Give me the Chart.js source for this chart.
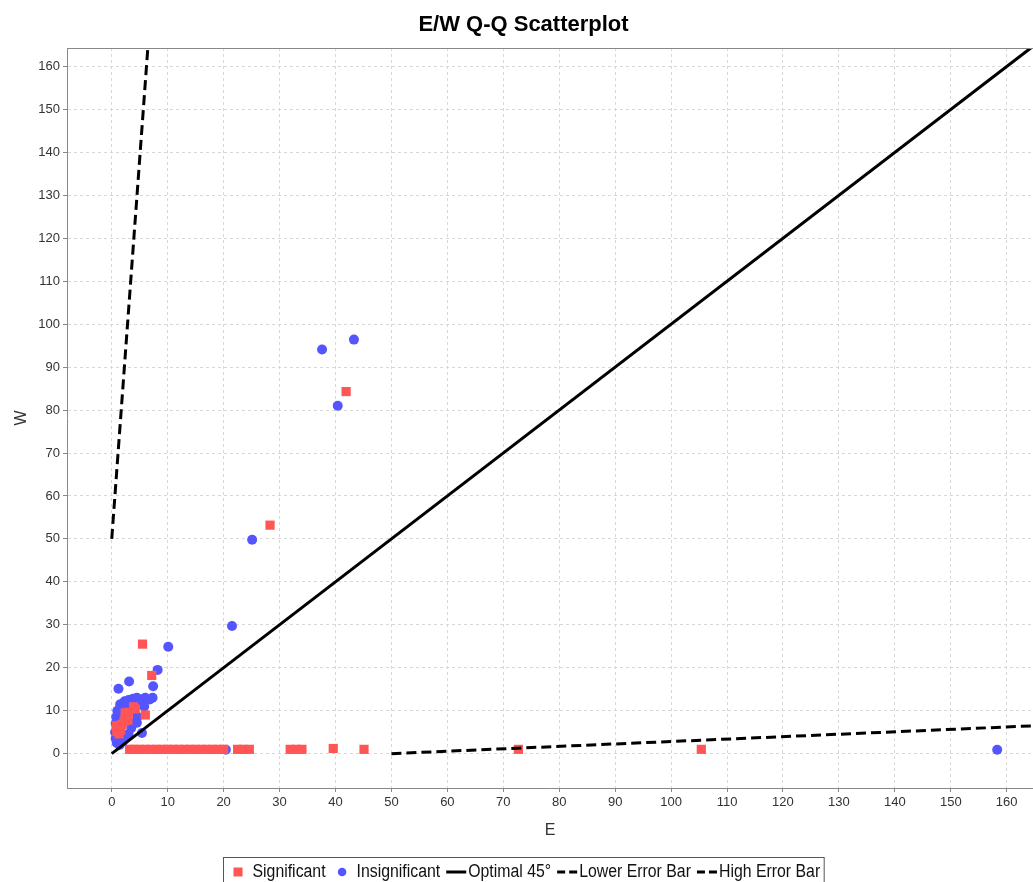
<!DOCTYPE html>
<html>
<head>
<meta charset="utf-8">
<title>E/W Q-Q Scatterplot</title>
<script src="https://cdn.jsdelivr.net/npm/chart.js@4.4.0/dist/chart.umd.min.js"></script>
<style>
  html, body { margin: 0; padding: 0; background: #fff; }
  #wrap { width: 1033px; height: 882px; }
</style>
</head>
<body>
<div id="wrap"><canvas id="qqChart" width="1033" height="882"></canvas></div>
<script>
// Significant points (red squares)
const sigE = [
  41.9, 28.3, 5.5, 7.15, 6.0, 4.2, 3.9,
  0.8, 0.9, 1.6, 1.8, 2.2, 2.6, 2.4, 3.0, 2.9, 1.3,
  3.2, 4, 5, 6, 7, 8, 9, 10, 11, 12, 13, 14, 15, 16, 17, 18, 19, 20,
  22.5, 23.5, 24.6, 31.9, 33, 34, 39.6, 45.1, 72.7, 105.4
];
const sigW = [
  84.3, 53.2, 25.5, 18.2, 9.0, 10.4, 10.9,
  6.5, 5.2, 5.5, 6.8, 7.5, 8.4, 9.4, 9.6, 7.8, 4.6,
  1, 1, 1, 1, 1, 1, 1, 1, 1, 1, 1, 1, 1, 1, 1, 1, 1, 1,
  1, 1, 1, 1, 1, 1, 1.2, 1, 1, 1
];

// Insignificant points (blue circles)
const insE = [
  1.2, 3.1, 7.4, 8.2, 10.1, 21.5, 25.1, 37.6, 43.3, 40.4, 158.3, 20.4, 5.4,
  1.5, 2.3, 3.0, 3.8, 4.5, 5.3, 6.0, 6.8, 7.3, 2.8, 4.2, 5.0, 5.8,
  3.4, 4.6, 4.0, 3.5, 4.5, 1.0, 0.8, 0.7, 0.6, 0.7, 0.9, 1.4, 2.0, 1.8, 2.5, 3.0, 1.2
];
const insW = [
  15.1, 16.8, 15.7, 19.5, 24.9, 29.7, 49.8, 94.1, 96.4, 81.0, 0.9, 0.9, 4.8,
  11.5, 12.2, 12.5, 12.8, 13.0, 12.6, 13.0, 12.6, 13.0, 11.0, 11.2, 11.5, 11.0,
  9.8, 8.6, 7.2, 6.0, 7.2, 10.0, 8.5, 7.0, 5.0, 3.5, 2.5, 2.0, 2.8, 4.0, 3.6, 4.6, 4.2
];

// reference lines
const optimalE = [0, 170];
const optimalW = [0, 170];
const lowerE = [50, 174];
const lowerW = [0, 7];
const highE = [0, 7];
const highW = [50, 174];

const xRange = [-8, 164.7];
const yRange = [-8, 164.3];
const tickStep = 10;

const FONT = "'Liberation Sans', Arial, sans-serif";
const RED = "#ff5555";
const BLUE = "#5555ff";

function toPoints(xs, ys) {
  return xs.map((x, i) => ({ x: x, y: ys[i] }));
}

// legend drawn as a boxed row under the plot (text slightly condensed like the original)
const boxLegend = {
  id: "boxLegend",
  afterDraw(chart) {
    const ctx = chart.ctx;
    const squeeze = 0.88;
    ctx.save();
    ctx.font = "18px " + FONT;
    ctx.textBaseline = "middle";

    const items = chart.data.datasets.map((ds) => {
      const isLine = !!ds.showLine;
      const iconW = isLine ? 20 : 9;
      return { ds: ds, isLine: isLine, iconW: iconW, textW: ctx.measureText(ds.label).width * squeeze };
    });

    let total = 10;
    items.forEach((it, i) => {
      total += it.iconW + (it.isLine ? 2 : 10) + it.textW;
      if (i < items.length - 1) {
        total += items[i + 1].isLine ? 6 : 12;
      }
    });
    total += 4;

    const center = 523.5;
    const left = Math.round(center - total / 2) + 0.5;
    const top = 857.5;
    const cy = 872;

    ctx.strokeStyle = "#555";
    ctx.lineWidth = 1;
    ctx.strokeRect(left, top, total, 40);

    let x = left + 10;
    items.forEach((it, i) => {
      const ds = it.ds;
      if (it.isLine) {
        ctx.strokeStyle = "#000";
        ctx.lineWidth = 3;
        ctx.setLineDash(ds.borderDash ? [8, 4] : []);
        ctx.beginPath();
        ctx.moveTo(x, cy);
        ctx.lineTo(x + it.iconW, cy);
        ctx.stroke();
        ctx.setLineDash([]);
        x += it.iconW + 2;
      } else {
        ctx.fillStyle = ds.backgroundColor;
        if (ds.pointStyle === "rect") {
          ctx.fillRect(x, cy - 4.5, 9, 9);
        } else {
          ctx.beginPath();
          ctx.arc(x + 4.5, cy, 4.3, 0, Math.PI * 2);
          ctx.fill();
        }
        x += it.iconW + 10;
      }
      ctx.save();
      ctx.translate(x, cy);
      ctx.scale(squeeze, 1);
      ctx.fillStyle = "#111";
      ctx.fillText(ds.label, 0, 0);
      ctx.restore();
      x += it.textW;
      if (i < items.length - 1) {
        x += items[i + 1].isLine ? 6 : 12;
      }
    });
    ctx.restore();
  }
};

// top edge of the plot frame
const plotFrame = {
  id: "plotFrame",
  afterDraw(chart) {
    const { ctx, chartArea } = chart;
    ctx.save();
    ctx.strokeStyle = "#888";
    ctx.lineWidth = 1;
    ctx.beginPath();
    ctx.moveTo(chartArea.left, Math.round(chartArea.top) + 0.5);
    ctx.lineTo(chartArea.right, Math.round(chartArea.top) + 0.5);
    ctx.stroke();
    ctx.restore();
  }
};

const ctx = document.getElementById("qqChart").getContext("2d");

new Chart(ctx, {
  type: "scatter",
  data: {
    datasets: [
      {
        label: "Significant",
        data: toPoints(sigE, sigW),
        pointStyle: "rect",
        pointRadius: 6.5,
        borderWidth: 0,
        backgroundColor: RED,
        borderColor: RED,
        order: 2,
      },
      {
        label: "Insignificant",
        data: toPoints(insE, insW),
        pointStyle: "circle",
        pointRadius: 5,
        borderWidth: 0,
        backgroundColor: BLUE,
        borderColor: BLUE,
        order: 3,
      },
      {
        label: "Optimal 45°",
        data: toPoints(optimalE, optimalW),
        showLine: true,
        pointRadius: 0,
        borderColor: "#000",
        borderWidth: 3,
        order: 0,
      },
      {
        label: "Lower Error Bar",
        data: toPoints(lowerE, lowerW),
        showLine: true,
        pointRadius: 0,
        borderColor: "#000",
        borderWidth: 3,
        borderDash: [10, 5],
        order: 0,
      },
      {
        label: "High Error Bar",
        data: toPoints(highE, highW),
        showLine: true,
        pointRadius: 0,
        borderColor: "#000",
        borderWidth: 3,
        borderDash: [10, 5],
        order: 0,
      },
    ],
  },
  options: {
    responsive: false,
    animation: false,
    events: [],
    devicePixelRatio: 1,
    layout: {
      autoPadding: false,
      padding: { left: 0, right: -14, top: 0, bottom: 32 },
    },
    plugins: {
      legend: { display: false },
      tooltip: { enabled: false },
      title: {
        display: true,
        text: "E/W Q-Q Scatterplot",
        color: "#000",
        font: { family: FONT, size: 22, weight: "bold" },
        padding: { top: 12, bottom: 9.6 },
      },
    },
    scales: {
      x: {
        type: "linear",
        min: xRange[0],
        max: xRange[1],
        afterFit(scale) {
          scale.height = 62;
          scale.paddingLeft = 0;
          scale.paddingRight = 0;
        },
        ticks: {
          stepSize: tickStep,
          includeBounds: false,
          autoSkip: false,
          maxRotation: 0,
          padding: 3,
          color: "#333",
          font: { family: FONT, size: 13 },
        },
        grid: { color: "#d8d8d8", tickColor: "#888", tickLength: 4 },
        border: { display: true, color: "#888", width: 1, dash: [3, 3] },
        title: {
          display: true,
          text: "E",
          color: "#333",
          font: { family: FONT, size: 16 },
          padding: { top: 4, bottom: 10 },
        },
      },
      y: {
        type: "linear",
        min: yRange[0],
        max: yRange[1],
        afterFit(scale) {
          scale.width = 67;
          scale.paddingTop = 0;
          scale.paddingBottom = 0;
        },
        ticks: {
          stepSize: tickStep,
          includeBounds: false,
          autoSkip: false,
          padding: 3,
          color: "#333",
          font: { family: FONT, size: 13 },
        },
        grid: { color: "#d8d8d8", tickColor: "#888", tickLength: 4 },
        border: { display: true, color: "#888", width: 1, dash: [3, 3] },
        title: {
          display: true,
          text: "W",
          color: "#333",
          font: { family: FONT, size: 16 },
          padding: { top: 12, bottom: 4 },
        },
      },
    },
  },
  plugins: [boxLegend, plotFrame],
});
</script>
</body>
</html>
